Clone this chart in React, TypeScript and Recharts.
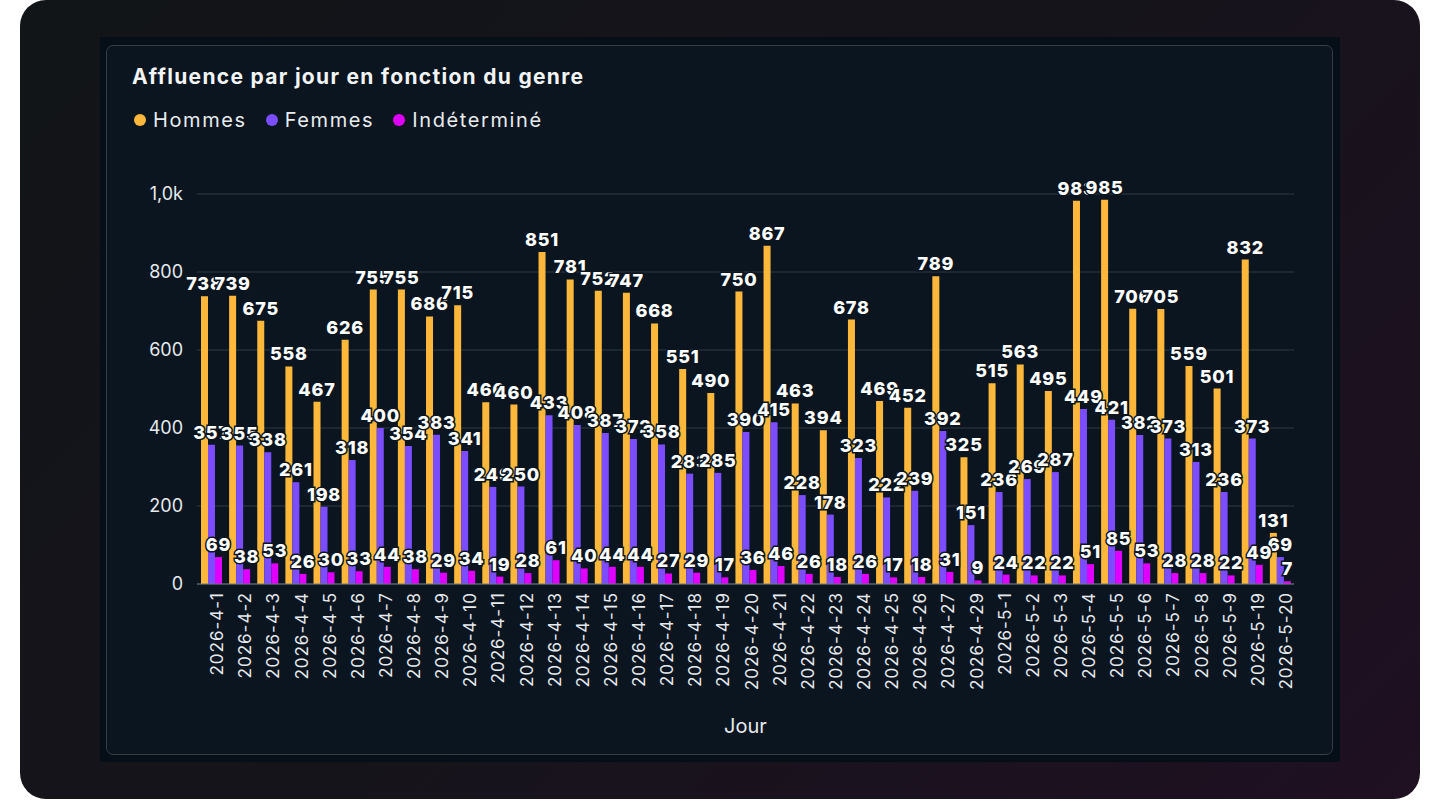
import React from 'react';
import {
  BarChart,
  Bar,
  XAxis,
  YAxis,
  CartesianGrid,
  LabelList,
  Label,
} from 'recharts';

const days = [
  '2026-4-1', '2026-4-2', '2026-4-3', '2026-4-4', '2026-4-5', '2026-4-6', '2026-4-7',
  '2026-4-8', '2026-4-9', '2026-4-10', '2026-4-11', '2026-4-12', '2026-4-13', '2026-4-14',
  '2026-4-15', '2026-4-16', '2026-4-17', '2026-4-18', '2026-4-19', '2026-4-20', '2026-4-21',
  '2026-4-22', '2026-4-23', '2026-4-24', '2026-4-25', '2026-4-26', '2026-4-27', '2026-4-29',
  '2026-5-1', '2026-5-2', '2026-5-3', '2026-5-4', '2026-5-5', '2026-5-6', '2026-5-7',
  '2026-5-8', '2026-5-9', '2026-5-19', '2026-5-20',
];

const hommes = [
  738, 739, 675, 558, 467, 626, 755, 755, 686, 715, 466, 460, 851, 781,
  752, 747, 668, 551, 490, 750, 867, 463, 394, 678, 469, 452, 789, 325,
  515, 563, 495, 983, 985, 706, 705, 559, 501, 832, 131,
];

const femmes = [
  357, 355, 338, 261, 198, 318, 400, 354, 383, 341, 249, 250, 433, 408,
  387, 372, 358, 283, 285, 390, 415, 228, 178, 323, 222, 239, 392, 151,
  236, 269, 287, 449, 421, 382, 373, 313, 236, 373, 69,
];

const indetermine = [
  69, 38, 53, 26, 30, 33, 44, 38, 29, 34, 19, 28, 61, 40,
  44, 44, 27, 29, 17, 36, 46, 26, 18, 26, 17, 18, 31, 9,
  24, 22, 22, 51, 85, 53, 28, 28, 22, 49, 7,
];

const yTicks = [0, 200, 400, 600, 800, 1000];

const data = days.map((day, i) => ({
  day,
  hommes: hommes[i],
  femmes: femmes[i],
  indetermine: indetermine[i],
}));

const COLORS = {
  hommes: '#FDB83C',
  femmes: '#7B4DFF',
  indetermine: '#E000FF',
};

const series = [
  { key: 'hommes', name: 'Hommes', color: COLORS.hommes },
  { key: 'femmes', name: 'Femmes', color: COLORS.femmes },
  { key: 'indetermine', name: 'Indéterminé', color: COLORS.indetermine },
];

const FONT = 'Inter, "Noto Sans", sans-serif';

const labelStyle = {
  fill: '#ffffff',
  stroke: '#0a1520',
  strokeWidth: 3,
  paintOrder: 'stroke',
  fontSize: 18,
  fontWeight: 800,
  fontFamily: FONT,
  letterSpacing: 0.8,
} as React.CSSProperties;

const formatY = (v: number) => (v >= 1000 ? `${(v / 1000).toFixed(1).replace('.', ',')}k` : `${v}`);

export default function App() {
  return (
    <div style={{ position: 'absolute', left: 0, top: 0, width: 1440, height: 800, background: '#ffffff', overflow: 'hidden' }}>
      <div
        style={{
          position: 'absolute',
          left: 20,
          top: 0,
          width: 1400,
          height: 799,
          borderRadius: 26,
          background: 'linear-gradient(135deg, #121518 0%, #16141b 50%, #1f1022 100%)',
        }}
      />
      <div style={{ position: 'absolute', left: 100, top: 37, width: 1240, height: 725, background: '#060f18' }} />
      <div
        style={{
          position: 'absolute',
          left: 106,
          top: 45,
          width: 1225,
          height: 708,
          border: '1px solid #333e48',
          borderRadius: 7,
          background: '#0a1520',
        }}
      />
      <div
        style={{
          position: 'absolute',
          left: 132,
          top: 64,
          fontFamily: FONT,
          fontWeight: 700,
          fontSize: 21,
          letterSpacing: 1.3,
          color: '#f2f4f6',
          whiteSpace: 'nowrap',
        }}
      >
        Affluence par jour en fonction du genre
      </div>
      {/* legend row */}
      <div
        style={{
          position: 'absolute',
          left: 134,
          top: 108,
          display: 'flex',
          gap: 19,
          fontFamily: FONT,
          fontSize: 20,
          letterSpacing: 1.6,
          color: '#e8ecef',
          whiteSpace: 'nowrap',
        }}
      >
        {series.map((s) => (
          <div key={s.key} style={{ display: 'flex', alignItems: 'center', gap: 7 }}>
            <span style={{ width: 12, height: 12, borderRadius: 6, background: s.color, display: 'inline-block' }} />
            <span>{s.name}</span>
          </div>
        ))}
      </div>
      <div style={{ position: 'absolute', left: 106, top: 45 }}>
        <BarChart
          width={1227}
          height={710}
          data={data}
          margin={{ top: 149, right: 39, bottom: 0, left: 31 }}
          barGap={0}
          barSize={7}
        >
          <CartesianGrid vertical={false} stroke="#2f3a44" />
          <XAxis
            dataKey="day"
            height={171}
            interval={0}
            axisLine={{ stroke: '#6e7780' }}
            tickLine={false}
            tick={{ fill: '#e6eaee', fontSize: 17, fontFamily: FONT, letterSpacing: 1 }}
            angle={-90}
            textAnchor="end"
            tickMargin={2}
          >
            <Label value="Jour" position="insideBottom" offset={22} fill="#e6eaee" fontSize={20} fontFamily={FONT} />
          </XAxis>
          <YAxis
            width={60}
            domain={[0, 1000]}
            ticks={yTicks}
            tickFormatter={formatY}
            axisLine={false}
            tickLine={false}
            tickMargin={8}
            tick={{ fill: '#e6eaee', fontSize: 18, fontFamily: FONT }}
          />
          {series.map((s) => (
            <Bar key={s.key} dataKey={s.key} name={s.name} fill={s.color} isAnimationActive={false}>
              <LabelList dataKey={s.key} position="top" offset={6} style={labelStyle} />
            </Bar>
          ))}
        </BarChart>
      </div>
    </div>
  );
}
